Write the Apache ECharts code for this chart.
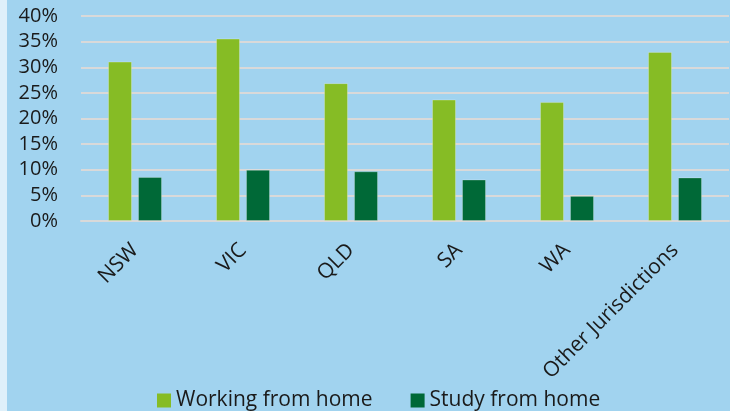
<!DOCTYPE html>
<html style="height: 100%">
<head>
	<meta charset="utf-8">
	<script src="https://cdn.jsdelivr.net/npm/echarts@6/dist/echarts.min.js"></script>
</head>
<body style="height: 100%; margin: 0; background: #dff0fa">
	<div id="container" style="position: absolute; left: 7px; top: 0; width: 723px; height: 411px; background: #a1d3ef"></div>
	<script type="text/javascript">
		let categories = ['NSW', 'VIC', 'QLD', 'SA', 'WA', 'Other Jurisdictions'];
		let legendNames = ['Working from home', 'Study from home'];
		let workingFromHome = [31.1, 35.6, 26.9, 23.7, 23.2, 33.0];
		let studyFromHome = [8.6, 10.0, 9.7, 8.1, 4.9, 8.5];
		let colors = ['#86bc25', '#006937'];

		let dom = document.getElementById('container');
		let myChart = echarts.init(dom);
		let fontName = 'Open Sans';

		let option = {
			color: colors,
			animation: false,
			grid: {
				left: 74,
				right: 1,
				top: 16,
				bottom: 190,
				containLabel: false
			},
			legend: {
				data: legendNames,
				left: 145,
				top: 385,
				icon: 'rect',
				itemWidth: 14,
				itemHeight: 14,
				itemGap: 38,
				itemStyle: { borderWidth: 0 },
				textStyle: {
					fontFamily: fontName,
					fontSize: 21,
					color: '#1a1a1a'
				}
			},
			xAxis: {
				type: 'category',
				data: categories,
				axisLine: { show: true, lineStyle: { color: '#d9d9d9', width: 2 } },
				axisTick: { show: false },
				axisLabel: {
					interval: 0,
					rotate: 45,
					margin: 26,
					fontFamily: fontName,
					fontSize: 21,
					color: '#1a1a1a'
				}
			},
			yAxis: {
				type: 'value',
				min: 0,
				max: 40,
				interval: 5,
				axisLine: { show: false },
				axisTick: { show: false },
				splitLine: { lineStyle: { color: '#d9d9d9', width: 2 } },
				axisLabel: {
					formatter: '{value}%',
					margin: 23,
					fontFamily: fontName,
					fontSize: 20,
					color: '#1a1a1a'
				}
			},
			series: [
				{
					name: legendNames[0],
					type: 'bar',
					barWidth: 24,
					barGap: '25%',
					itemStyle: { borderColor: 'rgba(255,255,255,0.25)', borderWidth: 1 },
					data: workingFromHome
				},
				{
					name: legendNames[1],
					type: 'bar',
					barWidth: 24,
					itemStyle: { borderColor: 'rgba(255,255,255,0.25)', borderWidth: 1 },
					data: studyFromHome
				}
			]
		};

		myChart.setOption(option);
	</script>
</body>
</html>
